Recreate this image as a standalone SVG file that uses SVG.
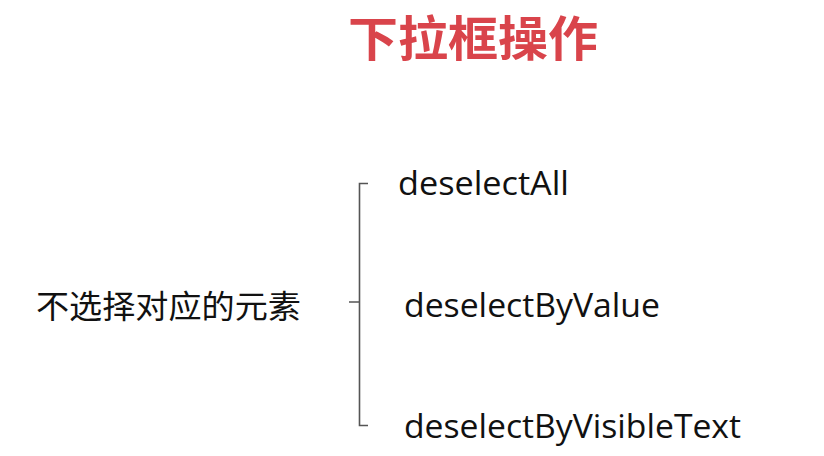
<svg xmlns="http://www.w3.org/2000/svg" width="824" height="456" viewBox="0 0 824 456">
<style>
.title{font-family:"Noto Sans CJK SC","Noto Sans",sans-serif;font-weight:bold;font-size:48px;fill:#d9444b}
.cn{font-family:"Noto Sans CJK SC","Noto Sans",sans-serif;font-size:32px;fill:#111}
.en{font-family:"Open Sans","Noto Sans",sans-serif;font-size:33px;fill:#111}
.br{fill:none;stroke:#555;stroke-width:1.6}
</style>
<rect width="824" height="456" fill="#ffffff"/>
<g id="title"><text class="title" x="473" y="56" text-anchor="middle" textLength="250" lengthAdjust="spacingAndGlyphs">下拉框操作</text></g>
<g id="root"><text class="cn" x="36" y="318" textLength="265" lengthAdjust="spacingAndGlyphs">不选择对应的元素</text></g>
<g id="connectors">
<path class="br" d="M368,183.5 H359.5 V425.5 H368 M359.5,302 H349"/>
</g>
<g id="n1"><text class="en" x="398" y="195" textLength="171" lengthAdjust="spacingAndGlyphs">deselectAll</text></g>
<g id="n2"><text class="en" x="404" y="317" textLength="256" lengthAdjust="spacingAndGlyphs">deselectByValue</text></g>
<g id="n3"><text class="en" x="404" y="438" textLength="337" lengthAdjust="spacingAndGlyphs">deselectByVisibleText</text></g>
</svg>
